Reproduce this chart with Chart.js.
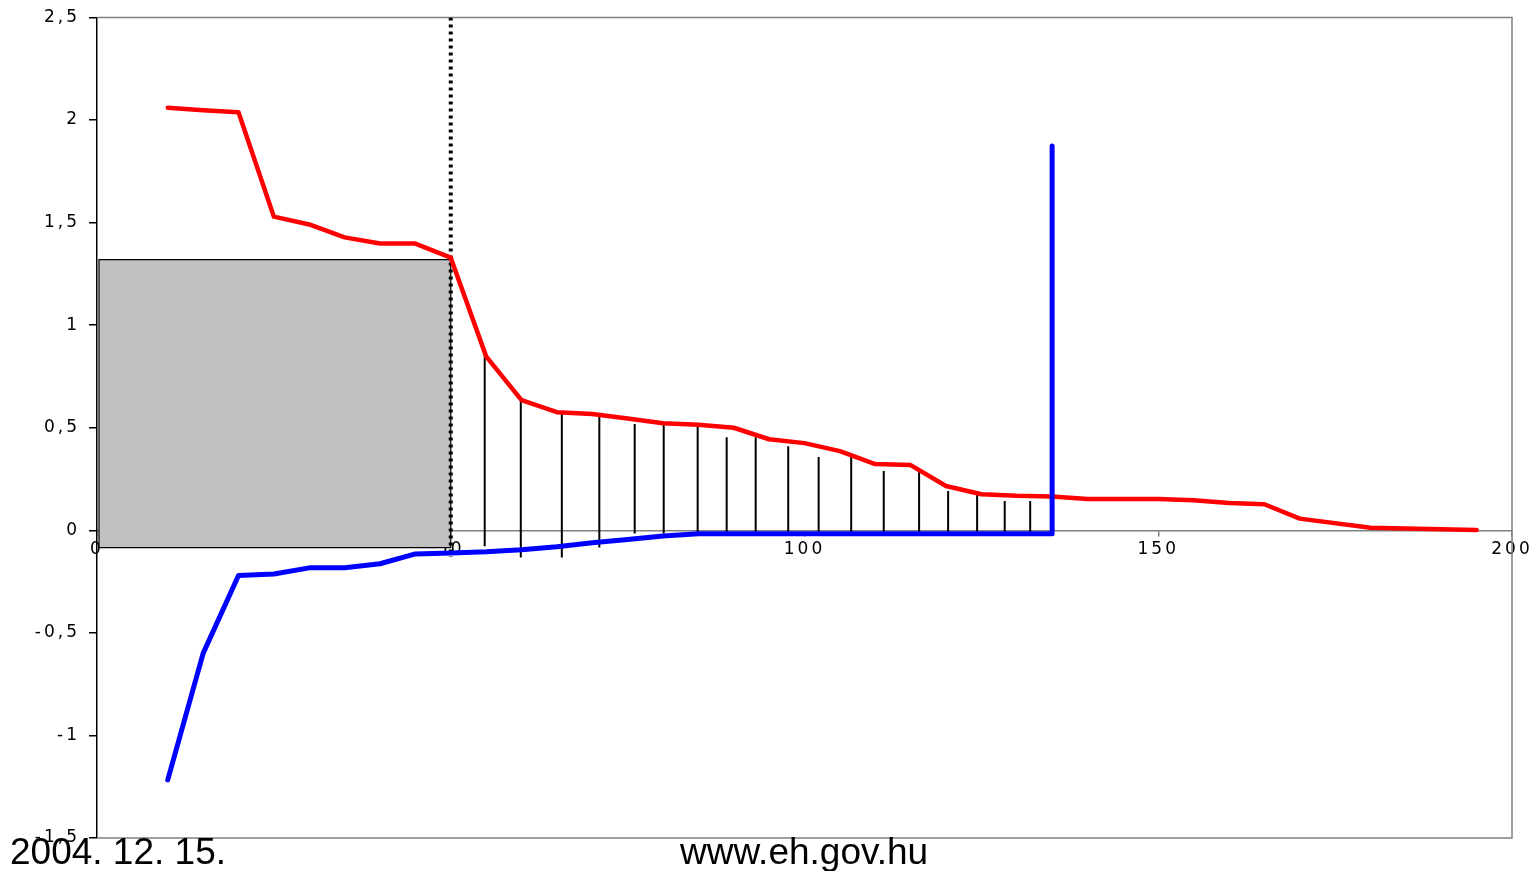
<!DOCTYPE html>
<html>
<head>
<meta charset="utf-8">
<title>eh.gov.hu</title>
<script src="https://cdn.jsdelivr.net/npm/chart.js@4.4.1/dist/chart.umd.min.js"></script>
<style>
  html, body { margin: 0; padding: 0; background: #fff; }
  #wrap { position: relative; width: 1538px; height: 871px; overflow: hidden; }
  #chart { position: absolute; left: 0; top: 0; }
  .foot { position: absolute; top: 833px; font-family: "Liberation Sans", Arial, sans-serif; font-size: 37px; line-height: 1; color: #000; white-space: nowrap; }
</style>
</head>
<body>
<div id="wrap">
  <canvas id="chart" width="1538" height="871"></canvas>
  <div class="foot" style="left:10px">2004. 12. 15.</div>
  <div class="foot" style="left:680px">www.eh.gov.hu</div>
</div>
<script>
// axis ticks
const xTicks = [0, 50, 100, 150, 200];
const xTickLabels = ['0', '50', '100', '150', '200'];
const yTicks = [-1.5, -1, -0.5, 0, 0.5, 1, 1.5, 2, 2.5];
const yTickLabels = ['-1,5', '-1', '-0,5', '0', '0,5', '1', '1,5', '2', '2,5'];

// red curve
const redX = [10, 15, 20, 25, 30, 35, 40, 45, 50, 55, 60, 65, 70, 75, 80, 85, 90, 95, 100, 105, 110, 115, 120, 125, 130, 135, 140, 150, 155, 160, 165, 170, 180, 195];
const redY = [2.06, 2.048, 2.038, 1.529, 1.491, 1.428, 1.398, 1.398, 1.329, 0.848, 0.635, 0.576, 0.567, 0.545, 0.522, 0.515, 0.5, 0.444, 0.425, 0.386, 0.323, 0.318, 0.216, 0.176, 0.168, 0.165, 0.153, 0.153, 0.146, 0.133, 0.127, 0.057, 0.013, 0.002];

// blue curve (ends with a vertical jump at 135)
const blueX = [10, 15, 20, 25, 30, 35, 40, 45, 50, 55, 60, 65, 70, 75, 80, 85, 135, 135];
const blueY = [-1.217, -0.6, -0.22, -0.213, -0.183, -0.183, -0.163, -0.115, -0.11, -0.105, -0.095, -0.08, -0.061, -0.045, -0.028, -0.017, -0.017, 1.873];

// thin vertical hatch lines
const hatchX = [54.8, 59.9, 65.7, 71.0, 76.0, 80.1, 84.9, 89.0, 93.1, 97.7, 102.0, 106.6, 111.2, 116.2, 120.3, 124.4, 128.3, 131.9];
const hatchTop = [0.848, 0.629, 0.571, 0.567, 0.518, 0.518, 0.518, 0.454, 0.454, 0.41, 0.357, 0.357, 0.289, 0.289, 0.192, 0.192, 0.143, 0.143];
const hatchBottom = [-0.078, -0.133, -0.133, -0.084, -0.016, -0.016, -0.016, -0.016, -0.016, -0.016, -0.016, -0.016, -0.016, -0.016, -0.016, -0.016, -0.016, -0.016];

// grey rectangle and dotted divider
const rectX = [0.28, 50];
const rectY = [-0.084, 1.32];
const dividerX = 50;
const dividerY = [2.5, -0.13];

function pts(xs, ys) {
  return xs.map((x, i) => ({ x: x, y: ys[i] }));
}

Chart.defaults.font.family = 'DejaVu Sans, sans-serif';
Chart.defaults.font.size = 17;

// grey frame on top, right and bottom of the plot
const frame = {
  id: 'frame',
  beforeDraw(chart) {
    chart.ctx.letterSpacing = '3px';
  },
  beforeDatasetsDraw(chart) {
    const { ctx, chartArea: a } = chart;
    ctx.save();
    ctx.strokeStyle = '#808080';
    ctx.lineWidth = 1.5;
    ctx.beginPath();
    ctx.moveTo(a.left, a.top);
    ctx.lineTo(a.right, a.top);
    ctx.lineTo(a.right, a.bottom);
    ctx.lineTo(a.left, a.bottom);
    ctx.stroke();
    ctx.restore();
  }
};

const lineBase = { showLine: true, pointRadius: 0, tension: 0, fill: false };

const hatchSets = hatchX.map((x, i) => Object.assign({}, lineBase, {
  data: [{ x: x, y: hatchTop[i] }, { x: x, y: hatchBottom[i] }],
  borderColor: '#000',
  borderWidth: 2
}));

const datasets = [
  Object.assign({}, lineBase, {
    data: pts(blueX, blueY),
    borderColor: '#0000ff',
    borderWidth: 5,
    borderCapStyle: 'round',
    borderJoinStyle: 'round'
  }),
  Object.assign({}, lineBase, {
    data: pts(redX, redY),
    borderColor: '#ff0000',
    borderWidth: 4.5,
    borderCapStyle: 'round',
    borderJoinStyle: 'round'
  }),
  ...hatchSets,
  Object.assign({}, lineBase, {
    data: [{ x: dividerX, y: dividerY[0] }, { x: dividerX, y: dividerY[1] }],
    borderColor: '#000',
    borderWidth: 4,
    borderDash: [3, 4]
  }),
  Object.assign({}, lineBase, {
    data: [
      { x: rectX[0], y: rectY[0] }, { x: rectX[0], y: rectY[1] },
      { x: rectX[1], y: rectY[1] }, { x: rectX[1], y: rectY[0] },
      { x: rectX[0], y: rectY[0] }
    ],
    borderColor: '#000',
    borderWidth: 1.2
  }),
  Object.assign({}, lineBase, {
    data: [{ x: rectX[0], y: rectY[1] }, { x: rectX[1], y: rectY[1] }],
    borderWidth: 0,
    backgroundColor: '#c0c0c0',
    fill: { value: rectY[0] }
  })
];

new Chart(document.getElementById('chart'), {
  type: 'scatter',
  data: { datasets: datasets },
  options: {
    responsive: false,
    animation: false,
    events: [],
    layout: { padding: { top: 15, right: 26, bottom: 33, left: 0 } },
    plugins: {
      legend: { display: false },
      tooltip: { enabled: false }
    },
    scales: {
      x: {
        type: 'linear',
        min: 0,
        max: 200,
        position: { y: 0 },
        afterBuildTicks: s => { s.ticks = xTicks.map(v => ({ value: v })); },
        grid: { drawOnChartArea: false, tickLength: 5, color: '#808080', lineWidth: 1.5 },
        border: { color: '#808080', width: 1.5 },
        ticks: {
          callback: v => xTickLabels[xTicks.indexOf(v)],
          color: '#000',
          font: { family: 'DejaVu Sans, sans-serif', size: 17, lineHeight: 1 },
          padding: 6,
          maxRotation: 0,
          autoSkip: false
        }
      },
      y: {
        type: 'linear',
        min: -1.5,
        max: 2.5,
        afterFit: s => { s.width = 97; },
        afterBuildTicks: s => { s.ticks = yTicks.map(v => ({ value: v })); },
        grid: { drawOnChartArea: false, tickLength: 8, color: '#000', lineWidth: 1.5 },
        border: { color: '#000', width: 1.5 },
        ticks: {
          callback: v => yTickLabels[yTicks.indexOf(v)],
          color: '#000',
          font: { family: 'DejaVu Sans, sans-serif', size: 17, lineHeight: 1 },
          padding: 9,
          autoSkip: false
        }
      }
    }
  },
  plugins: [frame]
});
</script>
</body>
</html>
